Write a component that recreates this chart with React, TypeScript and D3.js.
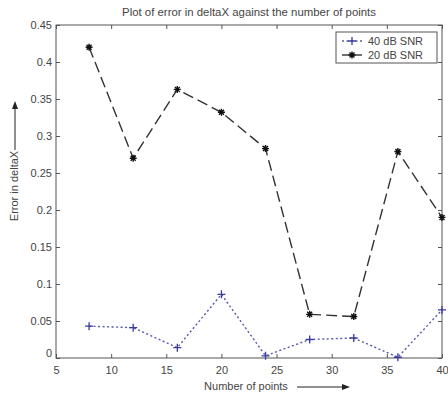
import { useEffect, useRef } from 'react';
import * as d3 from 'd3';

const points = [8, 12, 16, 20, 24, 28, 32, 36, 40];
const snr40 = [0.043, 0.041, 0.014, 0.086, 0.003, 0.025, 0.027, 0.001, 0.065];
const snr20 = [0.42, 0.27, 0.363, 0.332, 0.283, 0.059, 0.056, 0.279, 0.19];
const xTicks = [5, 10, 15, 20, 25, 30, 35, 40];
const yTicks = [0, 0.05, 0.1, 0.15, 0.2, 0.25, 0.3, 0.35, 0.4, 0.45];
const seriesNames = ['40 dB SNR', '20 dB SNR'];

function App() {
  const ref = useRef<SVGSVGElement>(null);

  useEffect(() => {
    drawChart();
    // eslint-disable-next-line
  }, []);

  function drawChart() {
    const config = { left: 56, right: 442, top: 25, bottom: 358 };
    const svg = d3.select(ref.current);
    svg.selectAll('*').remove();

    const xScale = d3.scaleLinear().domain([5, 40]).range([config.left, config.right]);
    const yScale = d3.scaleLinear().domain([0, 0.45]).range([config.bottom, config.top]);
    const textColor = '#444';
    const font = 'Liberation Sans, Arial, sans-serif';

    // box
    svg.append('rect')
      .attr('x', config.left).attr('y', config.top)
      .attr('width', config.right - config.left).attr('height', config.bottom - config.top)
      .attr('fill', 'white').attr('stroke', '#555').attr('stroke-width', 1);

    // ticks inside, both sides
    const xAxis = d3.axisBottom(xScale).tickValues(xTicks).tickSizeInner(-4).tickSizeOuter(0).tickPadding(6).tickFormat(d => String(d));
    const gx = svg.append('g').attr('transform', `translate(0,${config.bottom})`).call(xAxis);
    const xTop = d3.axisTop(xScale).tickValues(xTicks).tickSizeInner(-4).tickSizeOuter(0).tickFormat(() => '');
    const gxt = svg.append('g').attr('transform', `translate(0,${config.top})`).call(xTop);
    const yAxis = d3.axisLeft(yScale).tickValues(yTicks).tickSizeInner(-4).tickSizeOuter(0).tickPadding(4).tickFormat(d => String(+d));
    const gy = svg.append('g').attr('transform', `translate(${config.left},0)`).call(yAxis);
    const yRight = d3.axisRight(yScale).tickValues(yTicks).tickSizeInner(-4).tickSizeOuter(0).tickFormat(() => '');
    const gyr = svg.append('g').attr('transform', `translate(${config.right},0)`).call(yRight);

    [gx, gxt, gy, gyr].forEach(g => {
      g.select('.domain').remove();
      g.selectAll('line').attr('stroke', '#555');
      g.selectAll('text').attr('fill', textColor).style('font-family', font).style('font-size', '11px');
    });
    gx.selectAll('text').attr('dy', '0.9em');
    // zero label sits a little above the corner, like MATLAB
    gy.selectAll('text').filter(d => d === 0).attr('dy', '-0.1em');

    const line = d3.line<number>()
      .x((_, i) => xScale(points[i]))
      .y(d => yScale(d));

    svg.append('path').datum(snr40).attr('d', line)
      .attr('fill', 'none').attr('stroke', '#5858b0').attr('stroke-width', 1.4)
      .attr('stroke-dasharray', '2,2.5');
    svg.append('path').datum(snr20).attr('d', line)
      .attr('fill', 'none').attr('stroke', '#333').attr('stroke-width', 1.4)
      .attr('stroke-dasharray', '11,5');

    const plus = (g: d3.Selection<SVGGElement, unknown, null, undefined>, x: number, y: number, c: string) => {
      g.append('path').attr('d', `M${x - 4},${y}H${x + 4}M${x},${y - 4}V${y + 4}`)
        .attr('stroke', c).attr('stroke-width', 1.3);
    };
    const star = (g: d3.Selection<SVGGElement, unknown, null, undefined>, x: number, y: number, c: string) => {
      g.append('path').attr('d', `M${x - 3.5},${y}H${x + 3.5}M${x},${y - 3.5}V${y + 3.5}M${x - 2.5},${y - 2.5}L${x + 2.5},${y + 2.5}M${x - 2.5},${y + 2.5}L${x + 2.5},${y - 2.5}`)
        .attr('stroke', c).attr('stroke-width', 1.4);
    };

    const m40 = svg.append('g');
    snr40.forEach((v, i) => plus(m40, xScale(points[i]), yScale(v), '#3a3aa0'));
    const m20 = svg.append('g');
    snr20.forEach((v, i) => star(m20, xScale(points[i]), yScale(v), '#111'));

    // legend
    const lg = svg.append('g');
    lg.append('rect').attr('x', 336).attr('y', 32).attr('width', 101).attr('height', 31)
      .attr('fill', 'white').attr('stroke', '#555');
    lg.append('line').attr('x1', 342).attr('x2', 362).attr('y1', 41).attr('y2', 41)
      .attr('stroke', '#5858b0').attr('stroke-width', 1.4).attr('stroke-dasharray', '2,2.5');
    plus(lg, 352, 41, '#3a3aa0');
    lg.append('line').attr('x1', 342).attr('x2', 362).attr('y1', 55).attr('y2', 55)
      .attr('stroke', '#333').attr('stroke-width', 1.4);
    star(lg, 352, 55, '#111');
    seriesNames.forEach((n, i) => {
      lg.append('text').attr('x', 368).attr('y', 45 + i * 14).text(n)
        .attr('fill', textColor).style('font-family', font).style('font-size', '11px');
    });

    // title
    svg.append('text').attr('x', 249).attr('y', 16).attr('text-anchor', 'middle')
      .text('Plot of error in deltaX against the number of points')
      .attr('fill', textColor).style('font-family', font).style('font-size', '11.4px');

    // x label with arrow
    svg.append('text').attr('x', 246).attr('y', 390).attr('text-anchor', 'middle')
      .text('Number of points')
      .attr('fill', textColor).style('font-family', font).style('font-size', '11px');
    svg.append('line').attr('x1', 297).attr('x2', 344).attr('y1', 387).attr('y2', 387)
      .attr('stroke', '#222').attr('stroke-width', 1);
    svg.append('path').attr('d', 'M350,387L342,384L342,390Z').attr('fill', '#222');

    // y label with arrow
    svg.append('text').attr('transform', 'translate(18,186) rotate(-90)').attr('text-anchor', 'middle')
      .text('Error in deltaX')
      .attr('fill', textColor).style('font-family', font).style('font-size', '11px');
    svg.append('line').attr('x1', 15).attr('x2', 15).attr('y1', 150).attr('y2', 108)
      .attr('stroke', '#222').attr('stroke-width', 1);
    svg.append('path').attr('d', 'M15,101L12,109L18,109Z').attr('fill', '#222');
  }

  return (
    <svg ref={ref} width={448} height={396}
      style={{ position: 'absolute', left: 0, top: 0, background: 'white' }} />
  );
}

export default App;
